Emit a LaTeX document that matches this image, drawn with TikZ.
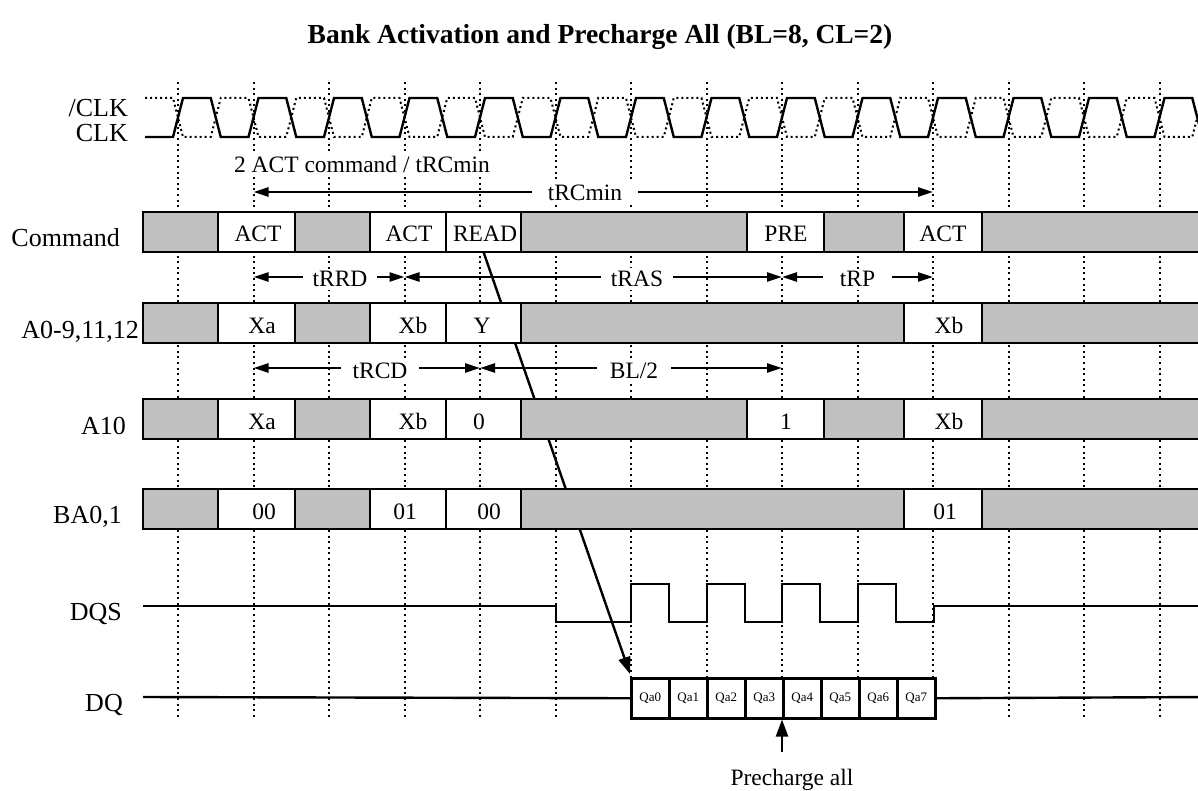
\documentclass[tikz,border=0pt]{standalone}
\usepackage{fontspec}
\setmainfont{Liberation Serif}
\usetikzlibrary{arrows.meta}
\definecolor{cellgray}{RGB}{192,192,192}
\pgfdeclarelayer{bg}
\pgfsetlayers{bg,main}
\newcommand\mkcell[5]{\node[#2, minimum width={#4-#3}] (#1) at (#3,#5) {};}
\begin{document}
\begin{tikzpicture}[x=1pt,y=-1pt,
  sig/.style={line width=2.4pt, line join=miter},
  gridln/.style={line width=2pt, dash pattern=on 2pt off 3.6pt},
  clkdot/.style={line width=2pt, dash pattern=on 2pt off 3pt},
  gcell/.style={draw, line width=2.5pt, fill=cellgray, inner sep=0pt, outer sep=0pt, minimum height=40pt, anchor=north west},
  wcell/.style={gcell, fill=white},
  qcell/.style={draw, line width=2.5pt, fill=white, inner sep=0pt, minimum width=38pt, minimum height=40pt, anchor=north west, font=\fontsize{13}{15}\selectfont},
  sigl/.style={font=\fontsize{26}{30}\selectfont, anchor=base east, inner sep=0pt},
  ctxt/.style={font=\fontsize{23.5}{28}\selectfont, anchor=base, inner sep=0pt},
  ann/.style={font=\fontsize{23.5}{28}\selectfont, anchor=base, fill=white, inner xsep=10pt, inner ysep=3pt},
  dimarr/.style={line width=2.4pt, {Triangle[length=15pt,width=9pt]}-{Triangle[length=15pt,width=9pt]}},
  bigarr/.style={line width=2.4pt, -{Triangle[length=17pt,width=12pt]}},
]
\useasboundingbox (0,0) rectangle (1198,791);

% title
\node[font=\fontsize{27.5}{32}\selectfont\bfseries, anchor=base] (title) at (600,44) {Bank Activation and Precharge All (BL=8, CL=2)};

% signal labels
\node[sigl] (lclkn) at (128,117) {/CLK};
\node[sigl] (lclk) at (128,142) {CLK};
\node[sigl] (lcmd) at (120,247) {Command};
\node[sigl] (la0) at (139,338) {A0-9,11,12};
\node[sigl] (la10) at (126,434) {A10};
\node[sigl] (lba) at (122,523) {BA0,1};
\node[sigl] (ldqs) at (122,620) {DQS};
\node[sigl] (ldq) at (123,711) {DQ};

% Command row
\mkcell{cm0}{gcell}{143}{218}{212}
\mkcell{cm1}{wcell}{218}{295}{212}
\mkcell{cm2}{gcell}{295}{370}{212}
\mkcell{cm3}{wcell}{370}{446}{212}
\mkcell{cm4}{wcell}{446}{521}{212}
\mkcell{cm5}{gcell}{521}{747}{212}
\mkcell{cm6}{wcell}{747}{824}{212}
\mkcell{cm7}{gcell}{824}{904}{212}
\mkcell{cm8}{wcell}{904}{982}{212}
\mkcell{cm9}{gcell}{982}{1215}{212}
\node[ctxt] (tcm1) at (258,242) {ACT};
\node[ctxt] (tcm3) at (409,242) {ACT};
\node[ctxt] (tcm4) at (485,242) {READ};
\node[ctxt] (tcm6) at (786,242) {PRE};
\node[ctxt] (tcm8) at (943,242) {ACT};

% A0-9,11,12 row
\mkcell{aa0}{gcell}{143}{218}{303}
\mkcell{aa1}{wcell}{218}{295}{303}
\mkcell{aa2}{gcell}{295}{370}{303}
\mkcell{aa3}{wcell}{370}{446}{303}
\mkcell{aa4}{wcell}{446}{521}{303}
\mkcell{aa5}{gcell}{521}{904}{303}
\mkcell{aa6}{wcell}{904}{982}{303}
\mkcell{aa7}{gcell}{982}{1215}{303}
\node[ctxt] (taa1) at (262,333) {Xa};
\node[ctxt] (taa3) at (413,333) {Xb};
\node[ctxt] (taa4) at (482,333) {Y};
\node[ctxt] (taa6) at (949,333) {Xb};

% A10 row
\mkcell{ab0}{gcell}{143}{218}{399}
\mkcell{ab1}{wcell}{218}{295}{399}
\mkcell{ab2}{gcell}{295}{370}{399}
\mkcell{ab3}{wcell}{370}{446}{399}
\mkcell{ab4}{wcell}{446}{521}{399}
\mkcell{ab5}{gcell}{521}{747}{399}
\mkcell{ab6}{wcell}{747}{824}{399}
\mkcell{ab7}{gcell}{824}{904}{399}
\mkcell{ab8}{wcell}{904}{982}{399}
\mkcell{ab9}{gcell}{982}{1215}{399}
\node[ctxt] (tab1) at (262,429) {Xa};
\node[ctxt] (tab3) at (413,429) {Xb};
\node[ctxt] (tab4) at (479,429) {0};
\node[ctxt] (tab6) at (786,429) {1};
\node[ctxt] (tab8) at (949,429) {Xb};

% BA0,1 row
\mkcell{ba0}{gcell}{143}{218}{489}
\mkcell{ba1}{wcell}{218}{295}{489}
\mkcell{ba2}{gcell}{295}{370}{489}
\mkcell{ba3}{wcell}{370}{446}{489}
\mkcell{ba4}{wcell}{446}{521}{489}
\mkcell{ba5}{gcell}{521}{904}{489}
\mkcell{ba6}{wcell}{904}{982}{489}
\mkcell{ba7}{gcell}{982}{1215}{489}
\node[ctxt] (tba1) at (264,519) {00};
\node[ctxt] (tba3) at (405,519) {01};
\node[ctxt] (tba4) at (489,519) {00};
\node[ctxt] (tba6) at (945,519) {01};

% DQ burst cells
\foreach \i in {0,...,7} {
  \node[qcell] (q\i) at ({630+38*\i},677) {Qa\i};
}

% grid lines and READ arrow on background
\begin{pgfonlayer}{bg}
\foreach \k in {0,...,13} {
  \coordinate (gt\k) at ({178+75.5*\k},82);
  \coordinate (gb\k) at ({178+75.5*\k},720);
  \draw[gridln] (gt\k) -- (gb\k);
}
\draw[bigarr] (cm4.south) -- ([yshift=3pt]q0.north west);
\end{pgfonlayer}

% clocks
\draw[sig] (145,137) -- (173,137)
  foreach \k in {0,...,13} {
    -- ({178+75.5*\k-5},137) -- ({178+75.5*\k+5},98)
    -- ({178+75.5*\k+37.75-5},98) -- ({178+75.5*\k+37.75+5},137) };
\draw[clkdot] (145,98) -- (173,98)
  foreach \k in {0,...,13} {
    -- ({178+75.5*\k-5},98) -- ({178+75.5*\k+5},137)
    -- ({178+75.5*\k+37.75-5},137) -- ({178+75.5*\k+37.75+5},98) };

% DQS
\draw[sig] (143,606) -- (556,606) -- (556,622) -- (631,622)
  -- (631,584) -- (669,584) -- (669,622) -- (707,622)
  -- (707,584) -- (745,584) -- (745,622) -- (782,622)
  -- (782,584) -- (820,584) -- (820,622) -- (858,622)
  -- (858,584) -- (896,584) -- (896,622) -- (934,622)
  -- (934,606) -- (1210,606);

% DQ
\coordinate (dqs) at (143,697);
\coordinate (dqe) at (1210,697);
\draw[sig] (dqs) -- (q0.west);
\draw[sig] (q7.east) -- (dqe);

% timing annotations
\coordinate (rcL) at (253.5,192);
\coordinate (rcR) at (933,192);
\draw[dimarr] (rcL) -- (rcR);
\node[ann, inner xsep=16pt] (trc) at (585,201) {tRCmin};
\node[ann, inner xsep=2pt] (tact) at (362,173) {2 ACT command / tRCmin};

\coordinate (r1) at (253.5,277);
\coordinate (r2) at (404.5,277);
\coordinate (r3) at (782,277);
\coordinate (r4) at (933,277);
\draw[dimarr] (r1) -- (r2);
\draw[dimarr] (r2) -- (r3);
\draw[dimarr] (r3) -- (r4);
\node[ann] (trrd) at (340,287) {tRRD};
\node[ann] (tras) at (637,287) {tRAS};
\node[ann, inner xsep=17pt] (trp) at (857.5,287) {tRP};

\coordinate (s1) at (253.5,368);
\coordinate (s2) at (480,368);
\coordinate (s3) at (782,368);
\draw[dimarr] (s1) -- (s2);
\draw[dimarr] (s2) -- (s3);
\node[ann, inner xsep=12pt] (trcd) at (380,378) {tRCD};
\node[ann, inner xsep=13pt] (tbl) at (634,378) {BL/2};

% precharge all
\coordinate (pcs) at (782,752);
\draw[bigarr] (pcs) -- (q4.south west);
\node[ctxt] (pcl) at (792,785) {Precharge all};
\end{tikzpicture}
\end{document}
